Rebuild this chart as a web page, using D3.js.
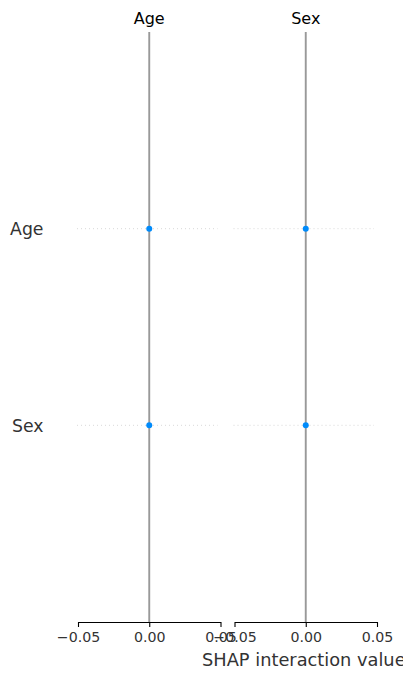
<!DOCTYPE html>
<html>
<head>
<meta charset="utf-8">
<script src="https://cdn.jsdelivr.net/npm/d3@7"></script>
<style>
  html, body { margin: 0; padding: 0; background: #fff; }
  svg { display: block; font-family: "DejaVu Sans", sans-serif; }
</style>
</head>
<body>
<svg id="chart" width="403" height="680"></svg>
<script>
// ---- data ----
const features = ["Age", "Sex"];
const xTicks = [-0.05, 0.00, 0.05];
const xDomain = [-0.05, 0.05];
// interaction values: rows = feature, columns = interacting feature
const ageAgeValues = [0.0];
const ageSexValues = [0.0];
const sexAgeValues = [0.0];
const sexSexValues = [0.0];
const cellValues = [
  [ageAgeValues, ageSexValues],
  [sexAgeValues, sexSexValues]
];
const xLabel = "SHAP interaction value";

(function () {
// ---- layout ----
const svg = d3.select("#chart");
const panels = [
  { left: 78, right: 220.5 },
  { left: 234.5, right: 377 }
];
const plotTop = 32, plotBottom = 622;

const y = d3.scalePoint().domain(features).range([plotTop, plotBottom]).padding(1);

const fmt = d => (d < 0 ? "\u2212" : "") + Math.abs(d).toFixed(2);

panels.forEach((p, ci) => {
  const x = d3.scaleLinear().domain(xDomain).range([p.left, p.right]);
  const g = svg.append("g");

  // dotted horizontal guide lines
  features.forEach(f => {
    g.append("line")
      .attr("x1", x(xDomain[0]) - 1).attr("x2", x(xDomain[1]) - 3)
      .attr("y1", y(f)).attr("y2", y(f))
      .attr("stroke", "#cccccc").attr("stroke-width", 0.8)
      .attr("stroke-dasharray", "1,3").attr("opacity", 0.9);
  });

  // zero line
  g.append("line")
    .attr("x1", x(0)).attr("x2", x(0))
    .attr("y1", plotTop).attr("y2", plotBottom)
    .attr("stroke", "#999999").attr("stroke-width", 1.9);

  // points
  features.forEach((f, ri) => {
    g.selectAll(null).data(cellValues[ri][ci]).enter().append("circle")
      .attr("cx", d => x(d)).attr("cy", y(f))
      .attr("r", 3).attr("fill", "#008bfb");
  });

  // title
  g.append("text")
    .attr("x", x(0)).attr("y", 24)
    .attr("text-anchor", "middle")
    .attr("font-size", 16).attr("fill", "#000")
    .text(features[ci]);

  // x axis
  const axis = d3.axisBottom(x).tickValues(xTicks).tickFormat(fmt).tickSize(5).tickSizeOuter(0);
  const ag = g.append("g").attr("transform", `translate(0,${plotBottom})`).call(axis);
  ag.select(".domain").attr("stroke", "#000").attr("stroke-width", 1.1);
  ag.selectAll(".tick line").attr("stroke", "#000").attr("stroke-width", 1.1);
  ag.selectAll(".tick text")
    .attr("font-family", "DejaVu Sans, sans-serif")
    .attr("font-size", 14.2).attr("fill", "#333")
    .attr("y", 20).attr("dy", null);
});

// row labels
features.forEach(f => {
  svg.append("text")
    .attr("x", 43.5).attr("y", y(f) + 6.3)
    .attr("text-anchor", "end")
    .attr("font-size", 17.3).attr("fill", "#333")
    .text(f);
});

// x axis label
svg.append("text")
  .attr("x", 202)
  .attr("y", 665.5)
  .attr("text-anchor", "start")
  .attr("font-size", 17.8).attr("fill", "#333")
  .text(xLabel);
})();
</script>
</body>
</html>
